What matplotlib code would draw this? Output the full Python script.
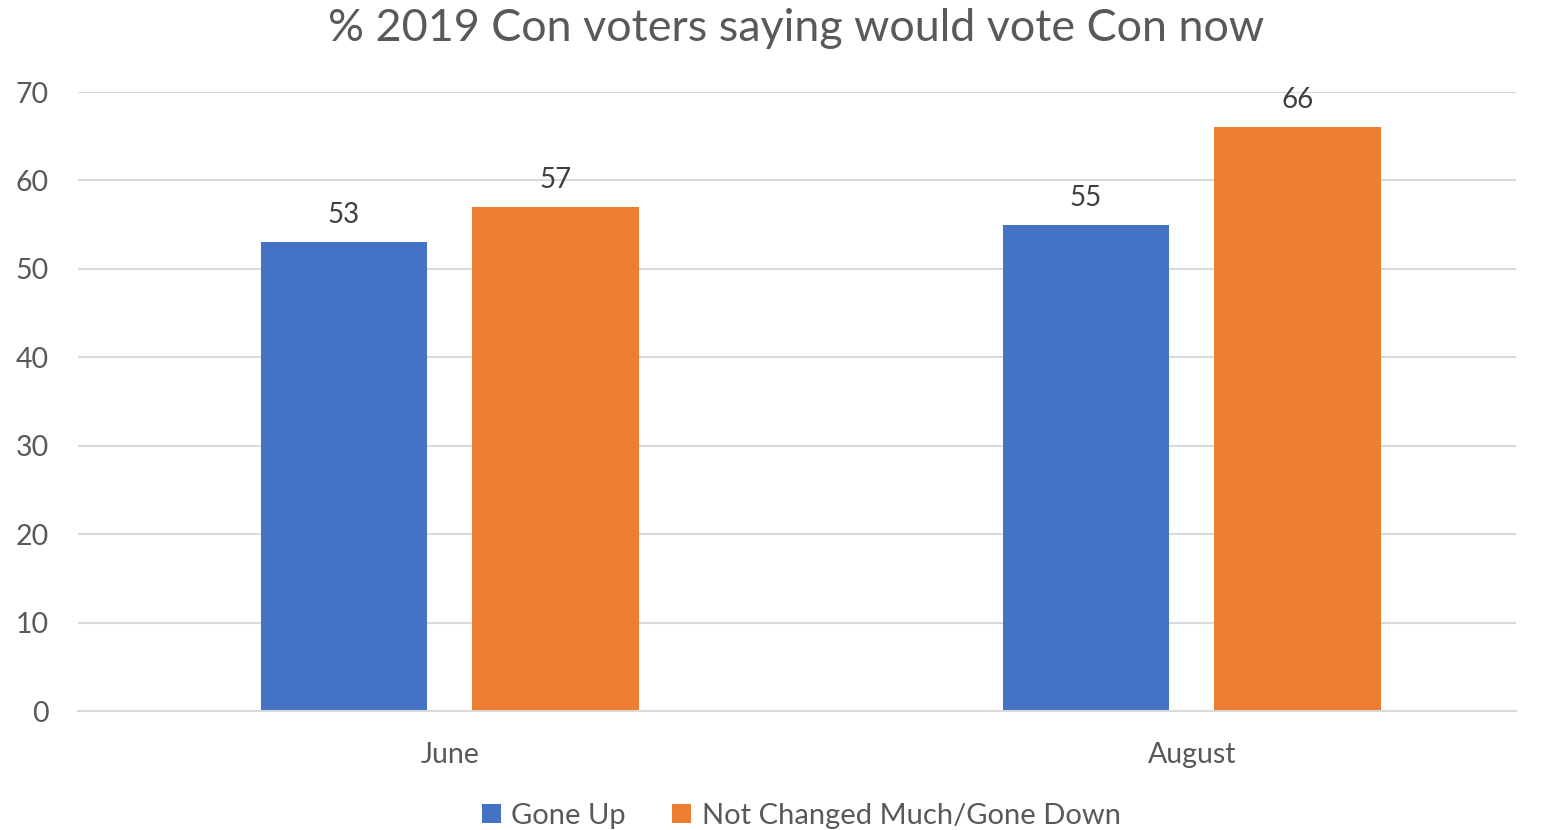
import matplotlib.pyplot as plt
import numpy as np

plt.rcParams['font.family'] = ['Lato', 'DejaVu Sans']

months = ["June", "August"]
gone_up = [53, 55]
not_changed = [57, 66]
series_names = ["Gone Up", "Not Changed Much/Gone Down"]
y_ticks = [0, 10, 20, 30, 40, 50, 60, 70]

blue = "#4472C4"
orange = "#ED7D31"
grey = "#595959"

fig = plt.figure(figsize=(15.44, 8.30), dpi=100)
ax = fig.add_axes([78 / 1544, 1 - 711 / 830, (1516 - 78) / 1544, (711 - 92) / 830])

x = np.arange(len(months))
w = 0.224
off = 0.1425

b1 = ax.bar(x - off, gone_up, w, color=blue, label=series_names[0])
b2 = ax.bar(x + off, not_changed, w, color=orange, label=series_names[1])

for bars in (b1, b2):
    ax.bar_label(bars, padding=10, fontsize=20, color="#404040")

ax.set_xlim(-0.501, 1.437)
ax.set_ylim(0, 70)
ax.set_yticks(y_ticks)
ax.set_xticks(x)
ax.set_xticklabels(months)
ax.grid(axis="y", color="#D9D9D9", linewidth=1.5)
ax.set_axisbelow(True)
for s in ["top", "right", "left"]:
    ax.spines[s].set_visible(False)
ax.spines["bottom"].set_color("#D9D9D9")
ax.spines["bottom"].set_linewidth(1.5)
ax.tick_params(axis="both", length=0, labelsize=20.5, labelcolor=grey)
ax.tick_params(axis="y", pad=21)
ax.tick_params(axis="x", pad=22)

fig.suptitle("% 2019 Con voters saying would vote Con now", fontsize=32.3, color=grey,
             x=0.5155, y=0.99)

fig.legend(handles=[b1, b2], loc="lower center", bbox_to_anchor=(0.519, -0.03), ncol=2,
           frameon=False, fontsize=21, labelcolor=grey, handlelength=0.65, handleheight=0.65,
           handletextpad=0.35, columnspacing=1.6)

fig.savefig("out.png", dpi=100)
